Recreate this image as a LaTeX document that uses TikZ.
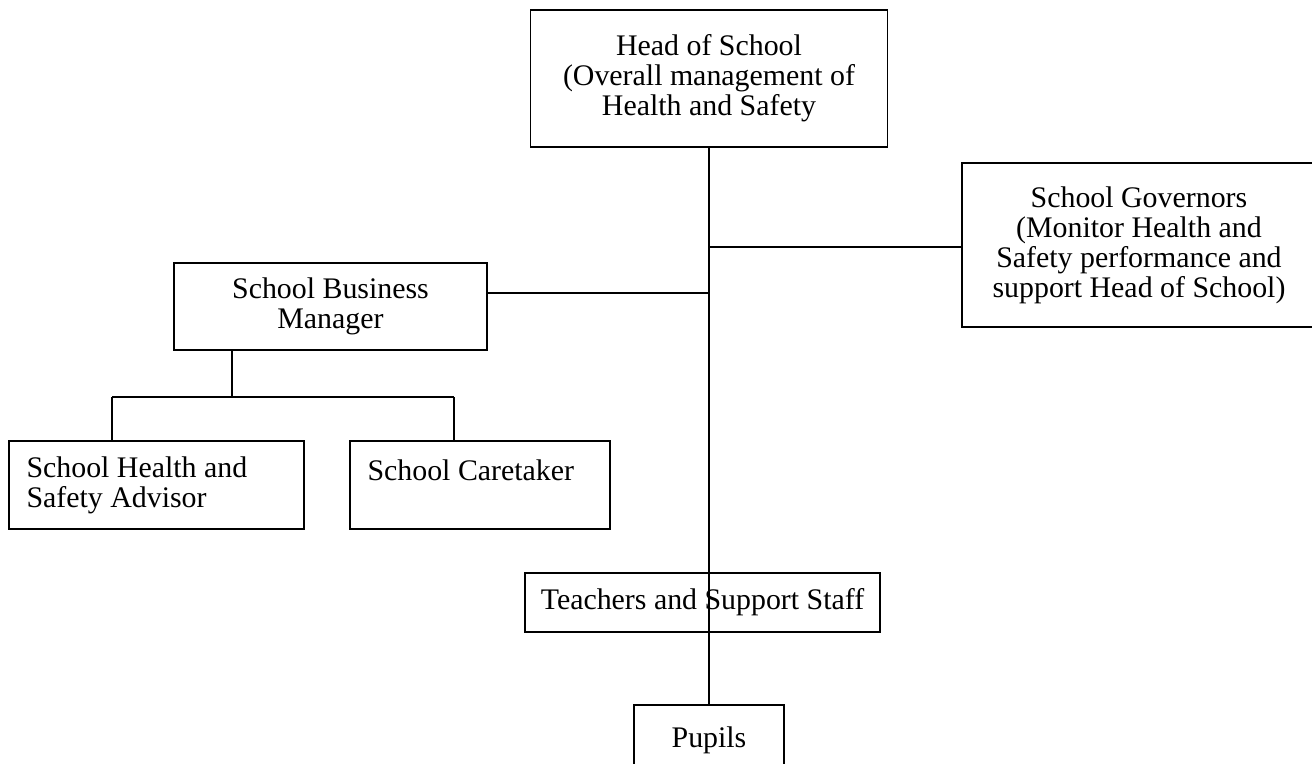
\documentclass[tikz,border=0pt]{standalone}
\usepackage{fontspec}
\setmainfont{Liberation Serif}
\usepackage{tikz}
\usetikzlibrary{positioning, calc}

\begin{document}
\begin{tikzpicture}[
    role/.style={rectangle, draw, line width=1.1pt, align=center, font=\fontsize{17}{17}\selectfont, inner sep=2pt},
    leftrole/.style={role, align=flush left, anchor=north west, inner xsep=10pt, minimum height=1.76cm},
    link/.style={line width=1.1pt}
]
    \useasboundingbox (0, 0) rectangle (26.24, -15.26);

    % Head of School
    \node[role, minimum width=7.14cm, minimum height=2.74cm] (head) at (14.18, -1.57) {Head of School\\(Overall management of\\Health and Safety};

    % School Governors
    \node[role, minimum width=7.08cm, minimum height=3.28cm] (gov) at (22.78, -4.9) {School Governors\\(Monitor Health and\\Safety performance and\\support Head of School)};

    % School Business Manager
    \node[role, minimum width=6.26cm, minimum height=1.74cm] (sbm) at (6.61, -6.13) {School Business\\Manager};

    % Staff under the business manager
    \node[leftrole, text width=5.2cm] (advisor) at (0.16, -8.8) {School Health and\\Safety Advisor};
    \node[leftrole, text width=4.5cm] (caretaker) at (6.98, -8.8) {School Caretaker\\\mbox{}};

    % Teachers and Pupils
    \node[role, minimum width=7.1cm, minimum height=1.18cm] (teachers) at (14.05, -12.05) {Teachers and Support Staff};
    \node[role, minimum width=3cm, minimum height=1.4cm] (pupils) at (14.18, -14.8) {Pupils};

    % Joints on the lines
    \coordinate (govjoin) at (14.18, -4.94);
    \coordinate (sbmjoin) at (14.18, -5.86);
    \coordinate (split) at (4.64, -7.94);
    \coordinate (advtop) at (2.24, -8.8);
    \coordinate (caretop) at (9.08, -8.8);

    % Main line from head down to pupils
    \draw[link] (head.south) -- (pupils.north);

    % Lines to governors and business manager
    \draw[link] (govjoin) -- (govjoin -| gov.west);
    \draw[link] (sbmjoin -| sbm.east) -- (sbmjoin);

    % Lines from business manager to staff
    \draw[link] (split |- sbm.south) -- (split);
    \draw[link] (split -| advtop) -- (split -| caretop);
    \draw[link] (split -| advtop) -- (advtop);
    \draw[link] (split -| caretop) -- (caretop);

\end{tikzpicture}
\end{document}
